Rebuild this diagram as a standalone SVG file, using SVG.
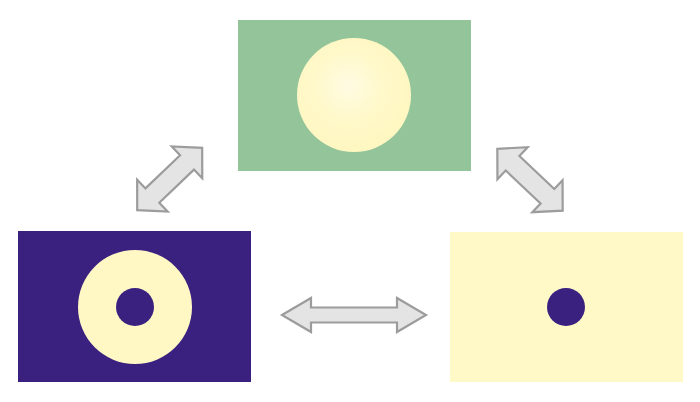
<svg xmlns="http://www.w3.org/2000/svg" width="700" height="402" viewBox="0 0 700 402">
<style>
.arrow{fill:#e4e4e4;stroke:#9c9c9c;stroke-width:2.2;stroke-linejoin:miter}
</style>
<defs>
<radialGradient id="glow" cx="0.45" cy="0.42" r="0.55">
<stop offset="0" stop-color="#fffbe2"/>
<stop offset="0.6" stop-color="#fff8c8"/>
<stop offset="1" stop-color="#fff7c2"/>
</radialGradient>
</defs>
<rect width="700" height="402" fill="#ffffff"/>
<g id="top-node">
<rect x="238" y="20" width="233" height="151" fill="#93c49a"/>
<circle cx="354" cy="95" r="57" fill="url(#glow)"/>
</g>
<g id="left-node">
<rect x="18" y="231" width="233" height="151" fill="#3a2180"/>
<circle cx="135" cy="307" r="57" fill="#fff8c4"/>
<circle cx="135" cy="307" r="19" fill="#3a2180"/>
</g>
<g id="right-node">
<rect x="450" y="232" width="233" height="150" fill="#fef9c6"/>
<circle cx="566" cy="307" r="19" fill="#3a2180"/>
</g>
<g id="connectors">
<polygon class="arrow" points="282,315 311,298 311,307.5 397,307.5 397,298 426,315 397,332 397,322.5 311,322.5 311,332"/>
<polygon class="arrow" transform="translate(169.7,179) rotate(-43.8)" points="-45,0 -24,-22 -24,-10 24,-10 24,-22 45,0 24,22 24,10 -24,10 -24,22"/>
<polygon class="arrow" transform="translate(530,179.7) rotate(43.4)" points="-45,0 -24,-22 -24,-10 24,-10 24,-22 45,0 24,22 24,10 -24,10 -24,22"/>
</g>
</svg>
